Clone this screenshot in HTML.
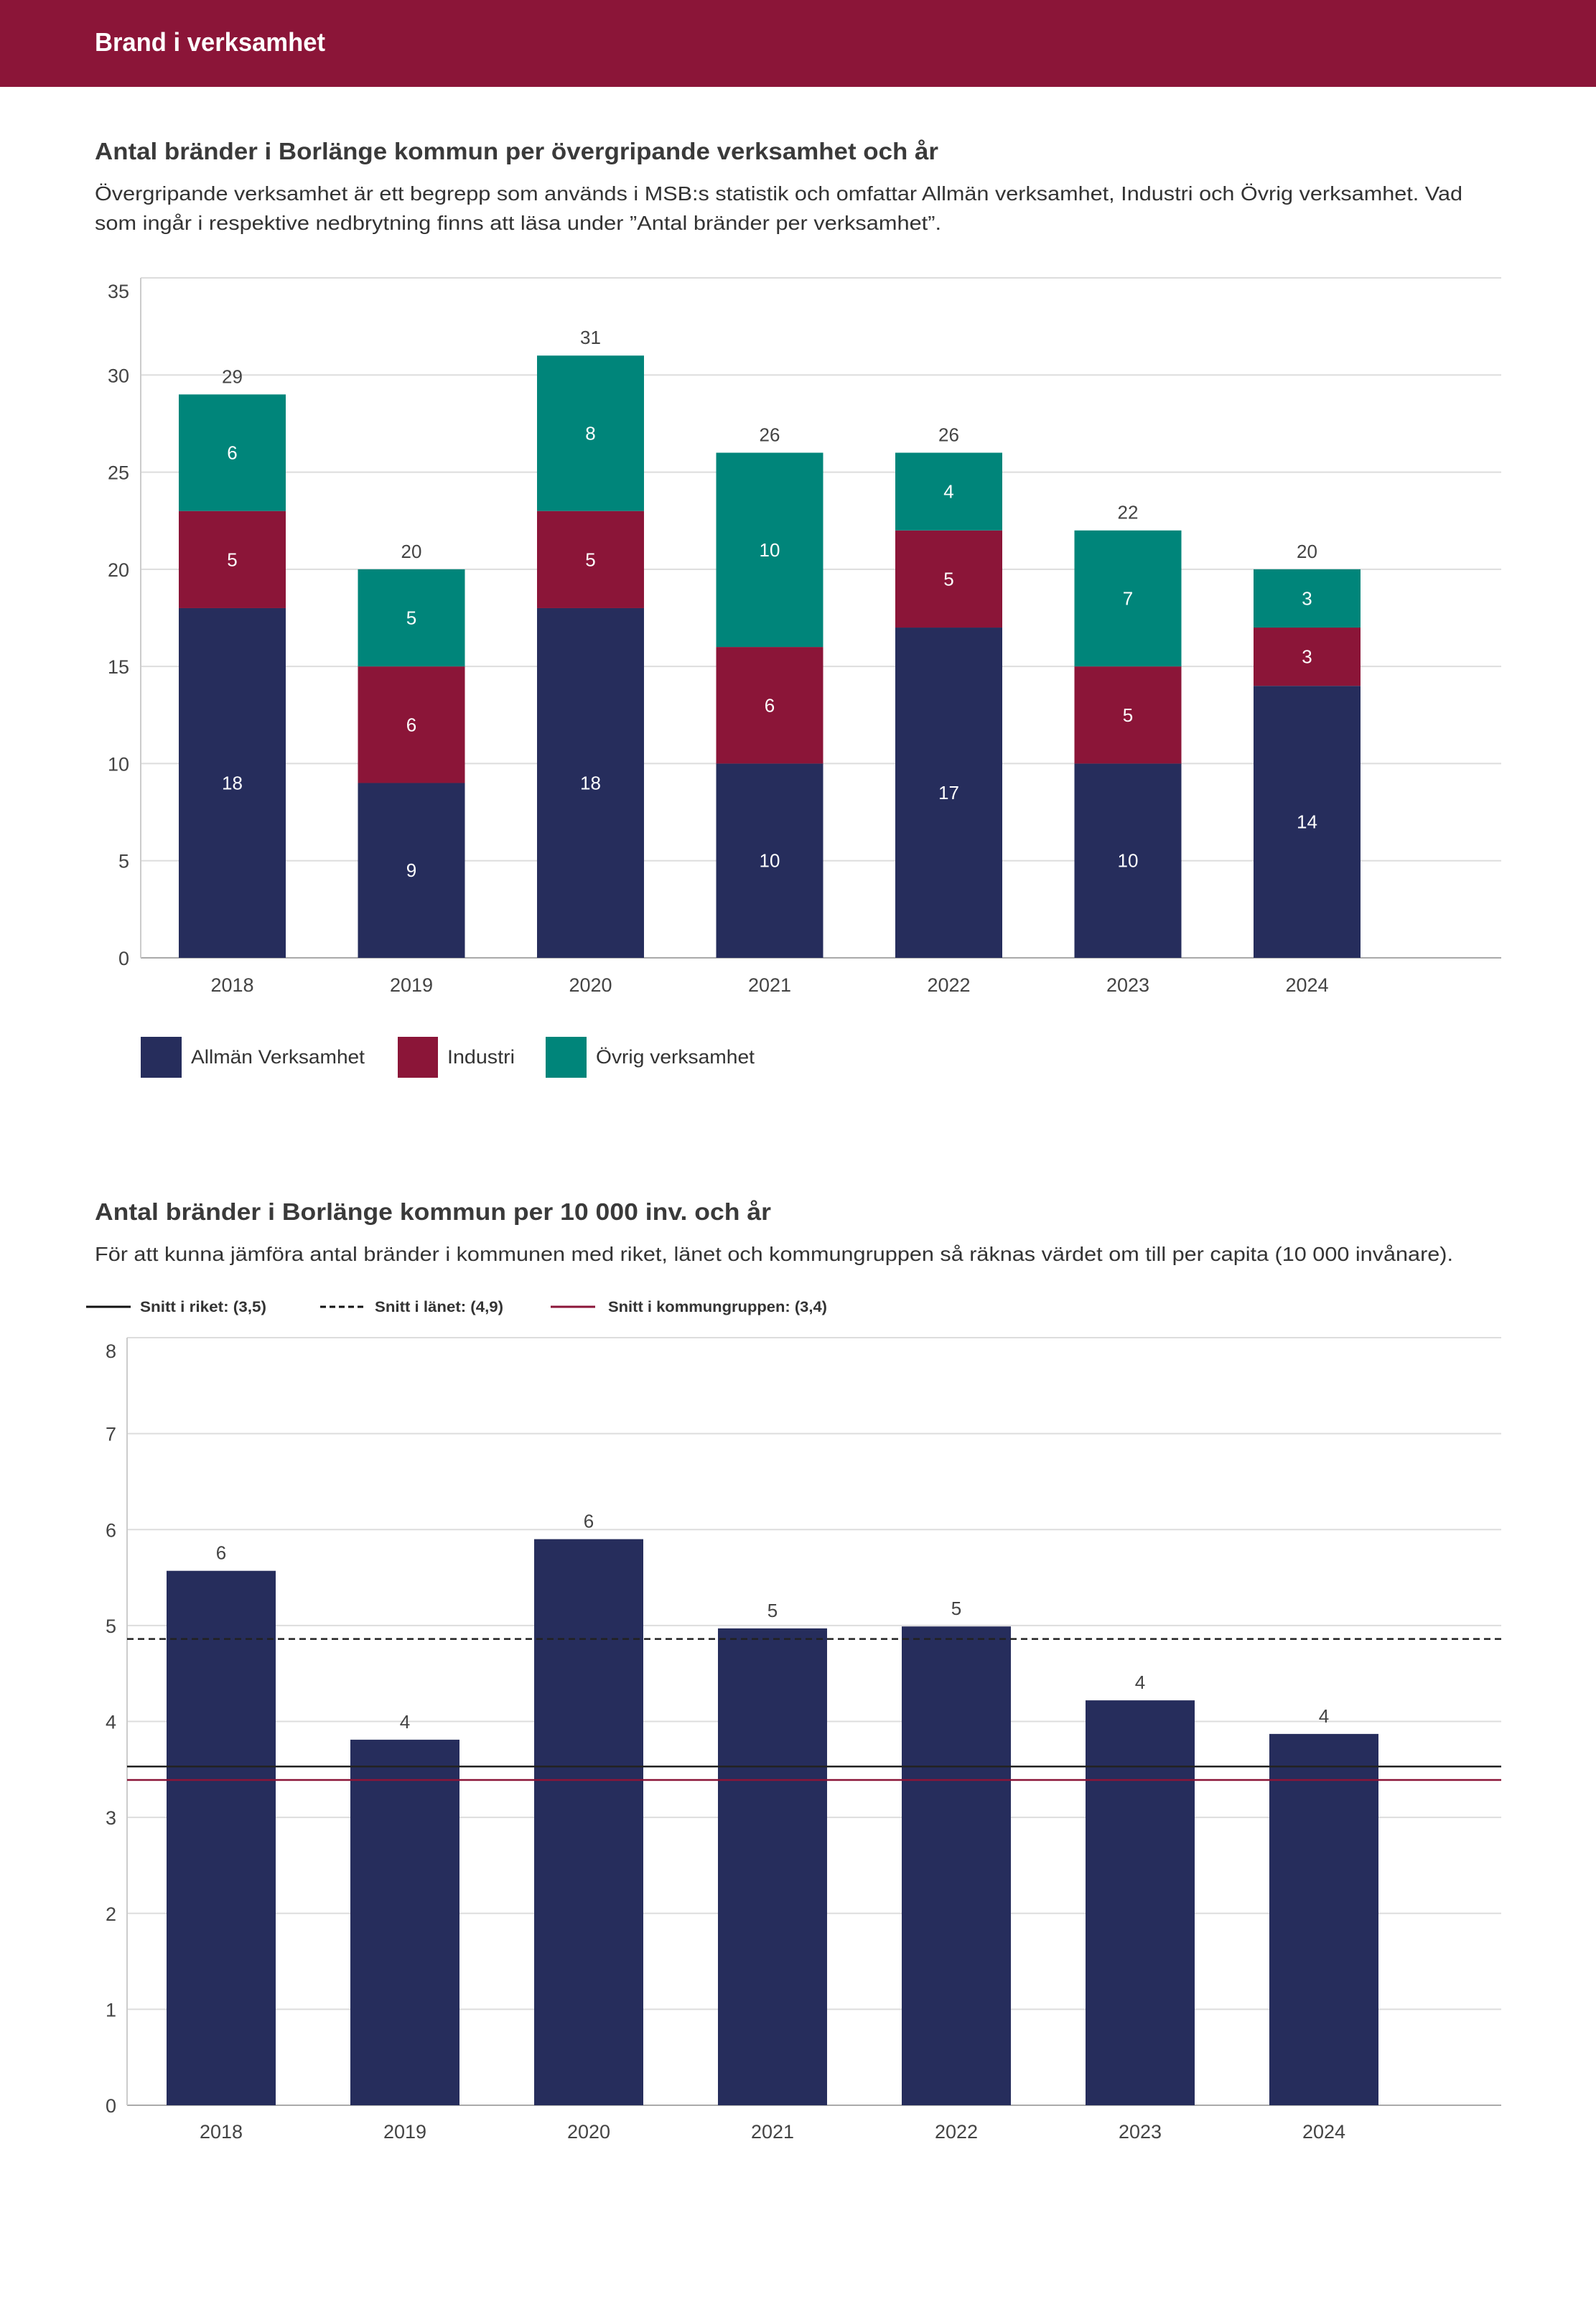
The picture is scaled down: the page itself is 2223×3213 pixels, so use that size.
<!DOCTYPE html>
<html><head><meta charset="utf-8"><style>
body{margin:0;width:2223px;height:3213px;background:#fff;font-family:"Liberation Sans",sans-serif;overflow:hidden}
svg{display:block}
</style></head><body>
<svg width="2223" height="3213" viewBox="0 0 2223 3213" xmlns="http://www.w3.org/2000/svg">
<rect x="0" y="0" width="2223" height="121" fill="#8b1538"/>
<text x="132" y="71" fill="#fff" font-size="36" font-weight="bold" textLength="321" lengthAdjust="spacingAndGlyphs">Brand i verksamhet</text>
<text x="132" y="222" fill="#3a3a3a" font-size="33" font-weight="bold" textLength="1175" lengthAdjust="spacingAndGlyphs">Antal bränder i Borlänge kommun per övergripande verksamhet och år</text>
<text x="132" y="279" fill="#333" font-size="28" textLength="1905" lengthAdjust="spacingAndGlyphs">Övergripande verksamhet är ett begrepp som används i MSB:s statistik och omfattar Allmän verksamhet, Industri och Övrig verksamhet. Vad</text>
<text x="132" y="320" fill="#333" font-size="28" textLength="1179" lengthAdjust="spacingAndGlyphs">som ingår i respektive nedbrytning finns att läsa under ”Antal bränder per verksamhet”.</text>
<g id="c1"></g>
<g id="lg1">
<rect x="196" y="1444" width="57" height="57" fill="#262d5c"/>
<text x="266" y="1481" font-size="27" fill="#333" textLength="242" lengthAdjust="spacingAndGlyphs">Allmän Verksamhet</text>
<rect x="554" y="1444" width="56" height="57" fill="#8b1538"/>
<text x="623" y="1481" font-size="27" fill="#333" textLength="94" lengthAdjust="spacingAndGlyphs">Industri</text>
<rect x="760" y="1444" width="57" height="57" fill="#00857a"/>
<text x="830" y="1481" font-size="27" fill="#333" textLength="221" lengthAdjust="spacingAndGlyphs">Övrig verksamhet</text>
</g>
<text x="132" y="1699" fill="#3a3a3a" font-size="33" font-weight="bold" textLength="942" lengthAdjust="spacingAndGlyphs">Antal bränder i Borlänge kommun per 10 000 inv. och år</text>
<text x="132" y="1756" fill="#333" font-size="28" textLength="1892" lengthAdjust="spacingAndGlyphs">För att kunna jämföra antal bränder i kommunen med riket, länet och kommungruppen så räknas värdet om till per capita (10 000 invånare).</text>
<g>
<line x1="120" y1="1820" x2="182" y2="1820" stroke="#111" stroke-width="3"/>
<text x="195" y="1827" font-size="21" font-weight="bold" fill="#333" textLength="176" lengthAdjust="spacingAndGlyphs">Snitt i riket: (3,5)</text>
<line x1="446" y1="1820" x2="507" y2="1820" stroke="#111" stroke-width="3" stroke-dasharray="8,5"/>
<text x="522" y="1827" font-size="21" font-weight="bold" fill="#333" textLength="179" lengthAdjust="spacingAndGlyphs">Snitt i länet: (4,9)</text>
<line x1="767" y1="1820" x2="829" y2="1820" stroke="#8b1538" stroke-width="3"/>
<text x="847" y="1827" font-size="21" font-weight="bold" fill="#333" textLength="305" lengthAdjust="spacingAndGlyphs">Snitt i kommungruppen: (3,4)</text>
</g>
<g id="c2"></g>
</svg>
<script>
const years = ["2018","2019","2020","2021","2022","2023","2024"];
const allman = [18,9,18,10,17,10,14];
const industri = [5,6,5,6,5,5,3];
const ovrig = [6,5,8,10,4,7,3];
const yTicks1 = [0,5,10,15,20,25,30,35];
const perCapita = [5.57,3.81,5.90,4.97,4.99,4.22,3.87];
const yTicks2 = [0,1,2,3,4,5,6,7,8];
const riket = 3.53;
const lanet = 4.86;
const kommungrupp = 3.39;

const NS="http://www.w3.org/2000/svg";
function mk(tag,attrs,parent,txt){const e=document.createElementNS(NS,tag);for(const k in attrs)e.setAttribute(k,attrs[k]);if(txt!==undefined)e.textContent=txt;parent.appendChild(e);return e;}

// Chart 1
const c1=document.getElementById('c1');
const y1=v=>1334-(1334-387)*v/35;
const x1=i=>323.5+249.5*i;
const max1=yTicks1[yTicks1.length-1];
yTicks1.forEach(t=>{
  const g=mk('line',{x1:196,x2:2091,y1:y1(t),y2:y1(t),stroke:t===0?'#aaa':'#ddd','stroke-width':2},c1);
  
  
  const l=mk('text',{x:180,y:y1(t)+(t===max1?28:10),'text-anchor':'end','font-size':27,fill:'#444'},c1,String(t));
  
  
});
const ax1=mk('line',{x1:196,x2:196,y1:387,y2:1334,stroke:'#ccc','stroke-width':2},c1);


const series=[[allman,'#262d5c','allman'],[industri,'#8b1538','industri'],[ovrig,'#00857a','ovrig']];
years.forEach((yr,i)=>{
  let base=0;
  series.forEach(([arr,col,nm])=>{
    const v=arr[i];
    const r=mk('rect',{x:x1(i)-74.5,y:y1(base+v),width:149,height:y1(base)-y1(base+v),fill:col},c1);
    
    
    const t=mk('text',{x:x1(i),y:(y1(base)+y1(base+v))/2+9,'text-anchor':'middle','font-size':26,fill:'#fff'},c1,String(v));
    
    
    base+=v;
  });
  const tl=mk('text',{x:x1(i),y:y1(base)-16,'text-anchor':'middle','font-size':26,fill:'#444'},c1,String(base));
  
  
  const xl=mk('text',{x:x1(i),y:1381,'text-anchor':'middle','font-size':27,fill:'#444'},c1,yr);
  
  
});

// Chart 2
const c2=document.getElementById('c2');
const y2=v=>2932-(2932-1863)*v/8;
const x2=i=>308+256*i;
const max2=yTicks2[yTicks2.length-1];
yTicks2.forEach(t=>{
  const g=mk('line',{x1:177,x2:2091,y1:y2(t),y2:y2(t),stroke:t===0?'#aaa':'#ddd','stroke-width':2},c2);
  
  
  const l=mk('text',{x:162,y:y2(t)+(t===max2?28:10),'text-anchor':'end','font-size':27,fill:'#444'},c2,String(t));
  
  
});
const ax2=mk('line',{x1:177,x2:177,y1:1863,y2:2932,stroke:'#ccc','stroke-width':2},c2);


years.forEach((yr,i)=>{
  const v=perCapita[i];
  const r=mk('rect',{x:x2(i)-76,y:y2(v),width:152,height:y2(0)-y2(v),fill:'#262d5c'},c2);
  
  
  const t=mk('text',{x:x2(i),y:y2(v)-16,'text-anchor':'middle','font-size':26,fill:'#444'},c2,String(Math.round(v)));
  
  
  const xl=mk('text',{x:x2(i),y:2978,'text-anchor':'middle','font-size':27,fill:'#444'},c2,yr);
  
  
});
const lr=mk('line',{x1:177,x2:2091,y1:y2(riket),y2:y2(riket),stroke:'#222','stroke-width':2.5},c2);


const ll=mk('line',{x1:177,x2:2091,y1:y2(lanet),y2:y2(lanet),stroke:'#222','stroke-width':2.5,'stroke-dasharray':'9,6'},c2);


const lk=mk('line',{x1:177,x2:2091,y1:y2(kommungrupp),y2:y2(kommungrupp),stroke:'#8b1538','stroke-width':2.5},c2);


</script>
</body></html>
